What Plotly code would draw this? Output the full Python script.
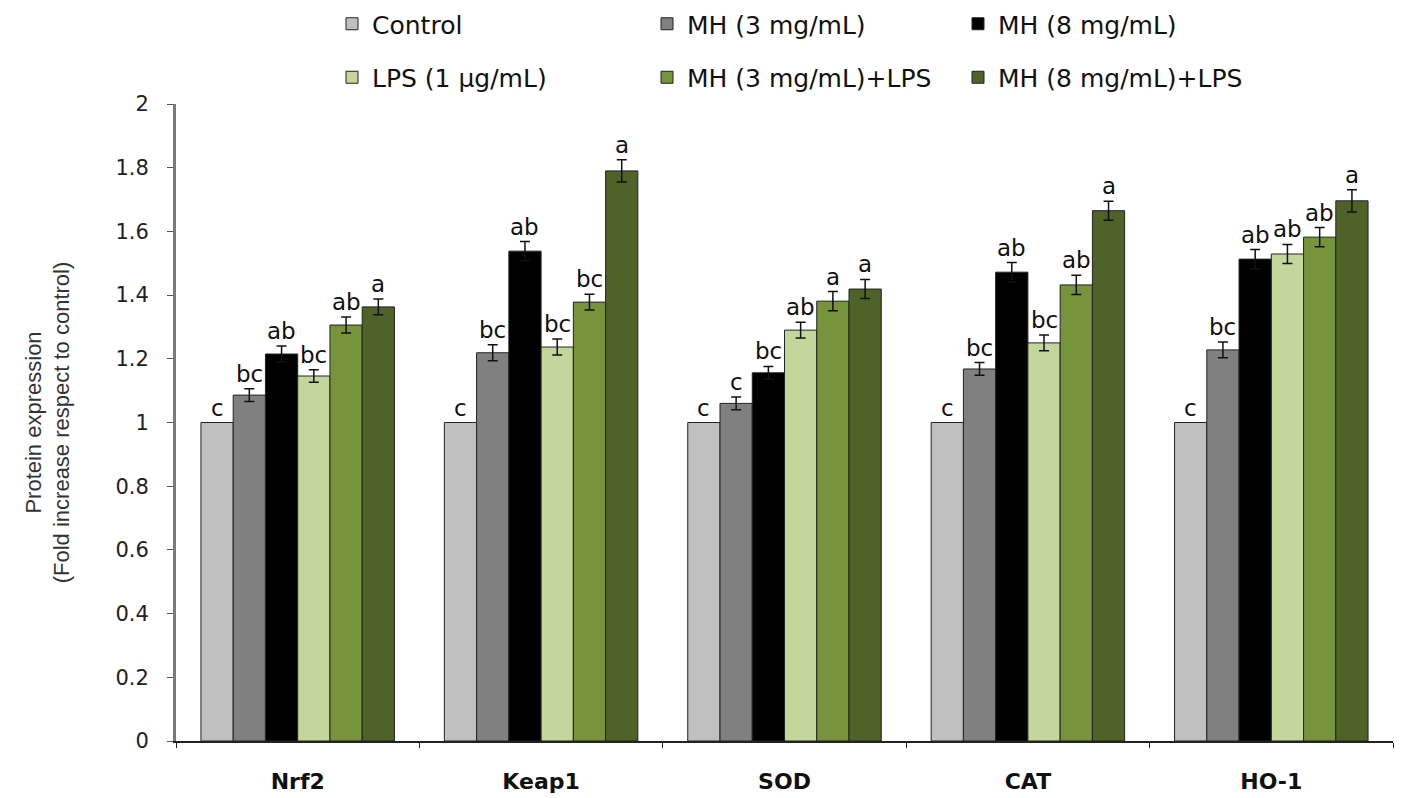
import plotly.graph_objects as go

categories = ["Nrf2", "Keap1", "SOD", "CAT", "HO-1"]
series_names = ["Control", "MH (3 mg/mL)", "MH (8 mg/mL)",
                "LPS (1 μg/mL)", "MH (3 mg/mL)+LPS", "MH (8 mg/mL)+LPS"]

control = [1.0, 1.0, 1.0, 1.0, 1.0]
mh3 = [1.086, 1.219, 1.06, 1.168, 1.228]
mh8 = [1.215, 1.538, 1.156, 1.472, 1.513]
lps = [1.146, 1.237, 1.29, 1.25, 1.529]
mh3_lps = [1.306, 1.378, 1.381, 1.432, 1.582]
mh8_lps = [1.363, 1.79, 1.419, 1.665, 1.696]

err_control = [0, 0, 0, 0, 0]
err_mh3 = [0.02, 0.025, 0.02, 0.02, 0.025]
err_mh8 = [0.025, 0.03, 0.02, 0.03, 0.03]
err_lps = [0.02, 0.025, 0.025, 0.025, 0.03]
err_mh3_lps = [0.025, 0.025, 0.03, 0.03, 0.03]
err_mh8_lps = [0.025, 0.035, 0.03, 0.03, 0.035]

let_control = ["c", "c", "c", "c", "c"]
let_mh3 = ["bc", "bc", "c", "bc", "bc"]
let_mh8 = ["ab", "ab", "bc", "ab", "ab"]
let_lps = ["bc", "bc", "ab", "bc", "ab"]
let_mh3_lps = ["ab", "bc", "a", "ab", "ab"]
let_mh8_lps = ["a", "a", "a", "a", "a"]

y_ticks = [0, 0.2, 0.4, 0.6, 0.8, 1, 1.2, 1.4, 1.6, 1.8, 2]

values = [control, mh3, mh8, lps, mh3_lps, mh8_lps]
errors = [err_control, err_mh3, err_mh8, err_lps, err_mh3_lps, err_mh8_lps]
letters = [let_control, let_mh3, let_mh8, let_lps, let_mh3_lps, let_mh8_lps]
colors = ["#c0c0c0", "#808080", "#000000", "#c3d69b", "#77933c", "#4f6228"]
legends = ["legend", "legend2", "legend3", "legend", "legend2", "legend3"]

FONT = "DejaVu Sans, Liberation Sans, Arial"

fig = go.Figure()
for i, name in enumerate(series_names):
    fig.add_trace(go.Bar(
        name=name, x=categories, y=values[i],
        marker=dict(color=colors[i], line=dict(color="#222222", width=1)),
        error_y=dict(type="data", array=errors[i], visible=any(e > 0 for e in errors[i]),
                     color="#111111", thickness=1.5, width=5),
        legend=legends[i], legendgroup=name,
    ))

n = len(series_names)
group_frac = 0.795
bar_w = group_frac / n
for i in range(n):
    offs = -group_frac / 2 + bar_w * (i + 0.5)
    for j, cat in enumerate(categories):
        fig.add_annotation(
            x=j + offs, y=values[i][j] + errors[i][j], xref="x", yref="y",
            text=letters[i][j], showarrow=False, yanchor="bottom", yshift=0,
            font=dict(size=23, color="#111111", family=FONT),
        )

L, R, T, B = 168, 18, 96, 65
PW = 1403 - L - R
PH = 798 - T - B

fig.update_layout(
    width=1403, height=798,
    barmode="group", bargap=0.205, bargroupgap=0,
    plot_bgcolor="white", paper_bgcolor="white",
    margin=dict(l=L, r=R, t=T, b=B, autoexpand=False),
    font=dict(family=FONT, size=20, color="#222222"),
    showlegend=True,
)

def leg(xscreen):
    return dict(x=(xscreen - (L + 8)) / PW, xanchor="left",
                y=1 + (T + 8 - 1) / PH, yanchor="top", yref="paper",
                orientation="v", tracegroupgap=18,
                font=dict(size=25, color="#111111", family=FONT), itemwidth=30,
                bgcolor="rgba(0,0,0,0)")

fig.update_layout(legend=leg(332), legend2=leg(647), legend3=leg(958))

fig.update_xaxes(
    type="category", range=[-0.5, 4.5], showline=True, linecolor="#222222", linewidth=1.5,
    ticks="outside", tickson="boundaries", ticklen=5, tickcolor="#222222",
    tickfont=dict(size=22, color="#111111", family=FONT),
    tickprefix="<b>", ticksuffix="</b>", ticklabelstandoff=20,
)
fig.update_yaxes(
    range=[0, 2], tickvals=y_ticks, ticktext=[f"{v:g}" for v in y_ticks],
    showline=True, linecolor="#7a7a7a", linewidth=3, showgrid=False, zeroline=False,
    ticks="outside", ticklen=6, tickcolor="#555555", ticklabelstandoff=14,
    tickfont=dict(size=21, color="#222222", family=FONT),
    title=dict(text="Protein expression<br>(Fold increase respect to control)",
               font=dict(size=22, color="#333333", family="Liberation Sans, Arial"),
               standoff=40),
)

fig.write_html("out.html")
